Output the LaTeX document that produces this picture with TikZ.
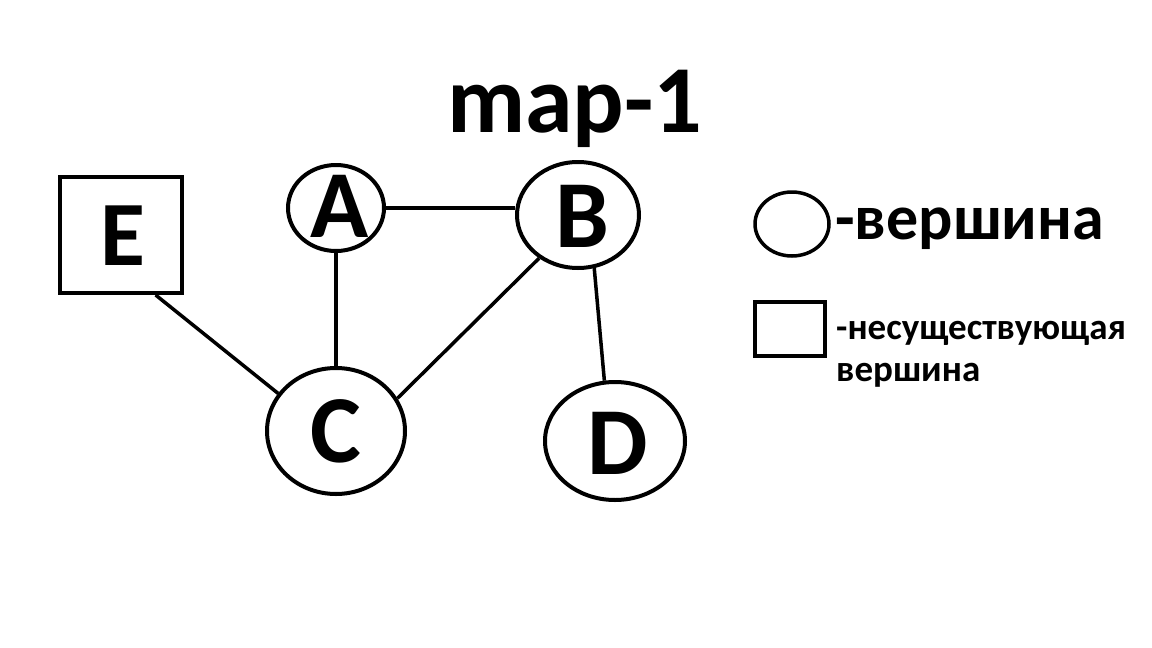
\documentclass[tikz,border=0pt]{standalone}
\usepackage{fontspec}
\setmainfont{Carlito}
\usetikzlibrary{shapes.geometric}
\begin{document}
\begin{tikzpicture}[x=1pt,y=-1pt,
  vert/.style={draw,ellipse,line width=4pt,inner sep=0pt},
  fake/.style={draw,rectangle,line width=4pt,inner sep=0pt},
  letter/.style={anchor=base,inner sep=0pt,font=\fontsize{96}{96}\selectfont\bfseries},
  edge/.style={line width=3.5pt}]
\useasboundingbox (0,0) rectangle (1152,648);
\node[font=\fontsize{96}{96}\selectfont\bfseries,anchor=base] (title) at (575,132) {map-1};
\node[vert,minimum width=96pt,minimum height=86pt] (A) at (336,208) {};
\node[vert,minimum width=122pt,minimum height=106pt] (B) at (578,215) {};
\node[vert,minimum width=138pt,minimum height=126pt] (C) at (336,431) {};
\node[vert,minimum width=140pt,minimum height=118pt] (D) at (615,441) {};
\node[fake,minimum width=122pt,minimum height=116pt] (E) at (121,235) {};
\node[letter] (Al) at (340,237) {A};
\node[letter] (Bl) at (582,247) {B};
\node[letter] (Cl) at (336,462) {C};
\node[letter] (Dl) at (618,474) {D};
\node[letter,font=\fontsize{92}{92}\selectfont\bfseries] (El) at (123,265) {E};
\draw[edge] (A.east) -- (A.east -| B.west);
\draw[edge] (A.south) -- (C.north);
\draw[edge] (B.228) -- (C.28);
\draw[edge] (E.-60) -- (C.147);
\draw[edge] (B.287) -- (D.100);
% legend
\node[draw,ellipse,line width=3.5pt,minimum width=74pt,minimum height=64pt,inner sep=0pt] (lc) at (792,224) {};
\node[font=\fontsize{64}{64}\selectfont\bfseries,anchor=base west,inner sep=0pt] (lt1) at (835,239) {-вершина};
\node[draw,rectangle,line width=3.5pt,minimum width=70pt,minimum height=54pt,inner sep=0pt] (lr) at (790,329) {};
\node[font=\fontsize{37}{37}\selectfont\bfseries,anchor=base west,inner sep=0pt] (lt2) at (836,339) {-несуществующая};
\node[font=\fontsize{37}{37}\selectfont\bfseries,anchor=base west,inner sep=0pt] (lt3) at (836,381) {вершина};
\end{tikzpicture}
\end{document}
